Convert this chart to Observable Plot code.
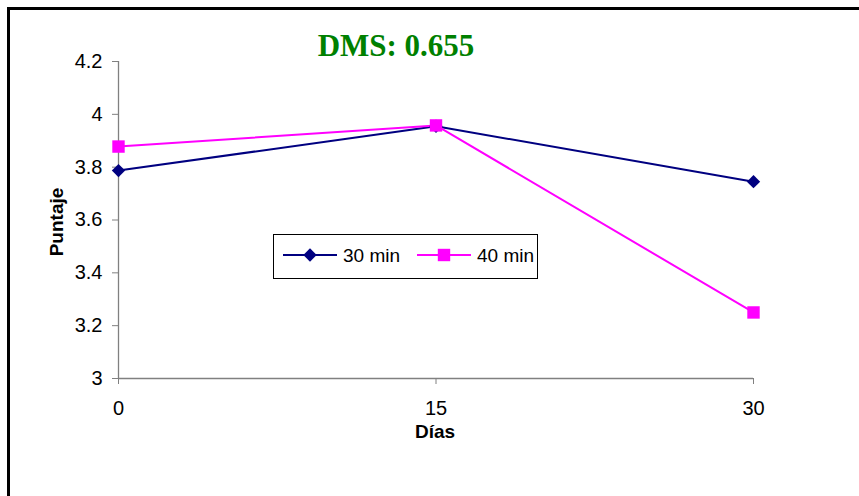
<!DOCTYPE html>
<html>
<head>
<meta charset="utf-8">
<script src="https://cdn.jsdelivr.net/npm/d3@7"></script>
<script src="https://cdn.jsdelivr.net/npm/@observablehq/plot@0.6"></script>
<style>
  html, body { margin: 0; padding: 0; background: #fff; }
  #wrap { position: relative; width: 859px; height: 496px; overflow: hidden; background: #fff; font-family: "Liberation Sans", Arial, sans-serif; }
  #frame { position: absolute; left: 7px; top: 7px; width: 900px; height: 600px; border: 3px solid #000; box-sizing: border-box; pointer-events: none; }
  #title { position: absolute; left: 0; width: 792px; top: 28px; text-align: center; font-family: "Liberation Serif", "Times New Roman", serif; font-weight: bold; font-size: 31px; color: #008000; white-space: nowrap; }
  #xlabel { position: absolute; left: 335px; width: 200px; top: 421px; text-align: center; font-weight: bold; font-size: 19px; }
  #ylabel { position: absolute; left: 57px; top: 222px; transform: translate(-50%, -50%) rotate(-90deg); font-weight: bold; font-size: 19px; white-space: nowrap; }
  #legend { position: absolute; left: 273px; top: 234px; width: 265px; height: 45px; border: 1px solid #000; box-sizing: border-box; background: #fff; }
  #legend svg { position: absolute; left: 0; top: 0; }
  #plot { position: absolute; left: 0; top: 0; }
</style>
</head>
<body>
<div id="wrap">
  <div id="plot"></div>
  <div id="title">DMS: 0.655</div>
  <div id="ylabel">Puntaje</div>
  <div id="xlabel">Días</div>
  <div id="legend"></div>
  <div id="frame"></div>
</div>
<script>
const days = [0, 15, 30];
const series = ["30 min", "40 min"];
const values30 = [3.787, 3.955, 3.745];
const values40 = [3.878, 3.958, 3.25];
const yTicks = [3, 3.2, 3.4, 3.6, 3.8, 4, 4.2];
const xTicks = [0, 15, 30];
const colors = ["#000080", "#FF00FF"];
const symbols = ["diamond2", "square"];

const data = [];
days.forEach((d, i) => {
  data.push({dia: d, puntaje: values30[i], serie: series[0]});
  data.push({dia: d, puntaje: values40[i], serie: series[1]});
});

const fmt = d => String(+d.toFixed(1));

const chart = Plot.plot({
  width: 859,
  height: 496,
  marginLeft: 118,
  marginRight: 106,
  marginTop: 61,
  marginBottom: 118,
  style: {fontFamily: "'Liberation Sans', Arial, sans-serif", fontSize: "20px", background: "transparent", color: "black"},
  x: {domain: [0, 30]},
  y: {domain: [3, 4.2]},
  color: {domain: series, range: colors},
  symbol: {domain: series, range: symbols},
  marks: [
    Plot.axisY({ticks: yTicks, tickSize: 6, tickPadding: 10, tickFormat: fmt, stroke: "#808080", fill: "black", fontSize: 20, label: null}),
    Plot.axisX({ticks: xTicks, tickSize: 6, tickPadding: 16, tickFormat: fmt, stroke: "#808080", fill: "black", fontSize: 20, label: null}),
    Plot.ruleX([0], {y1: 3, y2: 4.2, stroke: "#808080", strokeWidth: 1.3}),
    Plot.ruleY([3], {stroke: "#808080", strokeWidth: 1.3}),
    Plot.line(data, {x: "dia", y: "puntaje", z: "serie", stroke: "serie", strokeWidth: 2}),
    Plot.dot(data.filter(d => d.serie === series[0]), {x: "dia", y: "puntaje", symbol: "serie", fill: "serie", r: 6, stroke: null}),
    Plot.dot(data.filter(d => d.serie === series[1]), {x: "dia", y: "puntaje", symbol: "serie", fill: "serie", r: 7, stroke: null})
  ]
});
document.getElementById("plot").appendChild(chart);

// legend
const ns = "http://www.w3.org/2000/svg";
const lsvg = document.createElementNS(ns, "svg");
lsvg.setAttribute("width", 265);
lsvg.setAttribute("height", 45);
const items = [
  {x0: 9, label: series[0], color: colors[0], sym: d3.symbolDiamond2, size: 36 * Math.PI},
  {x0: 143, label: series[1], color: colors[1], sym: d3.symbolSquare, size: 49 * Math.PI}
];
items.forEach(it => {
  const y = 20;
  const line = document.createElementNS(ns, "line");
  line.setAttribute("x1", it.x0); line.setAttribute("x2", it.x0 + 54);
  line.setAttribute("y1", y); line.setAttribute("y2", y);
  line.setAttribute("stroke", it.color); line.setAttribute("stroke-width", 2);
  lsvg.appendChild(line);
  const p = document.createElementNS(ns, "path");
  p.setAttribute("d", d3.symbol(it.sym, it.size)());
  p.setAttribute("transform", `translate(${it.x0 + 27},${y})`);
  p.setAttribute("fill", it.color);
  lsvg.appendChild(p);
  const t = document.createElementNS(ns, "text");
  t.setAttribute("x", it.x0 + 60); t.setAttribute("y", y);
  t.setAttribute("dy", "0.35em");
  t.setAttribute("font-size", 19);
  t.setAttribute("font-family", "'Liberation Sans', Arial, sans-serif");
  t.textContent = it.label;
  lsvg.appendChild(t);
});
document.getElementById("legend").appendChild(lsvg);
</script>
</body>
</html>
